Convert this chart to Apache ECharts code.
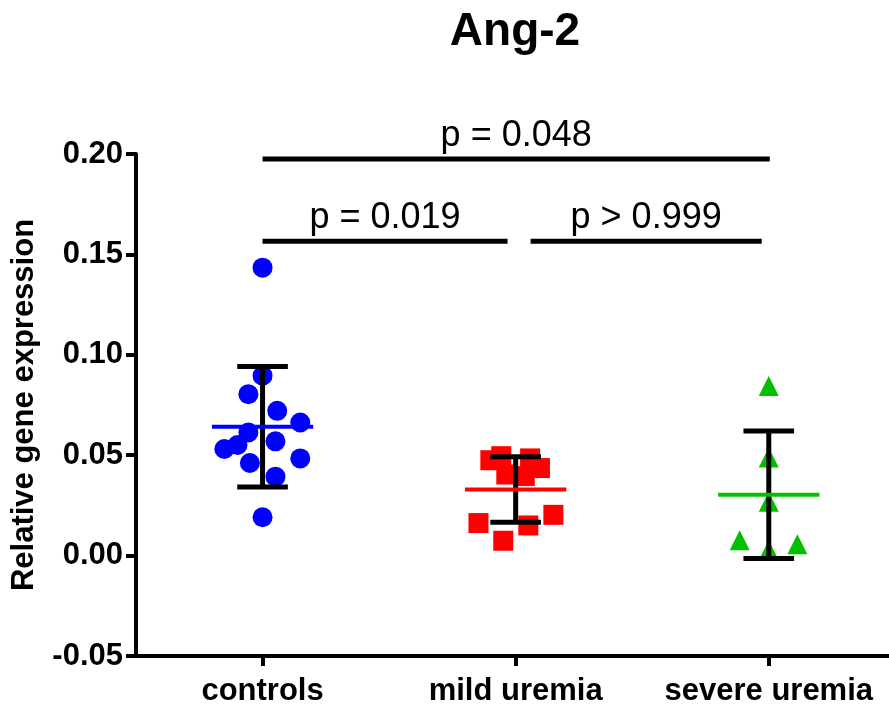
<!DOCTYPE html>
<html>
<head>
<meta charset="utf-8">
<script src="https://cdn.jsdelivr.net/npm/echarts@6/dist/echarts.min.js"></script>
<style>
  html, body { margin: 0; padding: 0; background: #ffffff; }
  #chart { width: 889px; height: 709px; }
</style>
</head>
<body>
<div id="chart"></div>
<script>
// Groups on the x axis
const categories = ['controls', 'mild uremia', 'severe uremia'];

// Individual samples (relative gene expression) with their horizontal spread
const controlsValues = [0.1434, 0.0896, 0.0804, 0.0721, 0.0663, 0.0613, 0.0551, 0.0531, 0.0569, 0.0461, 0.0484, 0.0393, 0.0191];
const controlsSpread = [0, 0, -0.056, 0.058, 0.149, -0.056, -0.099, -0.151, 0.051, -0.050, 0.149, 0.051, 0];

const mildValues = [0.0475, 0.0495, 0.0404, 0.0484, 0.0436, 0.0396, 0.0162, 0.0074, 0.0150, 0.0203];
const mildSpread = [-0.100, -0.057, -0.037, 0.057, 0.096, 0.036, -0.147, -0.049, 0.050, 0.149];

const severeValues = [0.0844, 0.0489, 0.0268, 0.0077, 0.0057, 0.0027];
const severeSpread = [0, 0, 0, -0.115, 0.113, 0];

// Mean and standard deviation per group
const groupMeans = [0.0642, 0.0329, 0.0303];
const groupSD = [0.0300, 0.0163, 0.0318];

// Pairwise comparisons
const bracketFrom = [1.0, 1.0, 2.059];
const bracketTo = [3.004, 1.968, 2.972];
const bracketLevel = [0.1975, 0.1565, 0.1565];
const bracketText = ['p = 0.048', 'p = 0.019', 'p > 0.999'];

// Y axis ticks
const yMin = -0.05, yMax = 0.20, yStep = 0.05;

const groupColors = ['#0000ff', '#ff0000', '#00c000'];
const groupSymbols = ['circle', 'rect', 'triangle'];
const groupValues = [controlsValues, mildValues, severeValues];
const groupSpread = [controlsSpread, mildSpread, severeSpread];

const chart = echarts.init(document.getElementById('chart'));

const scatterSeries = groupValues.map((vals, g) => ({
  type: 'scatter',
  name: categories[g],
  symbol: groupSymbols[g],
  symbolSize: 20,
  itemStyle: { color: groupColors[g], opacity: 1 },
  z: 2,
  silent: true,
  data: vals.map((v, i) => [g + 1 + groupSpread[g][i], v])
}));

// Error bars (mean ± SD) with the group mean drawn on top
const summarySeries = {
  type: 'custom',
  z: 3,
  silent: true,
  encode: { x: 0, y: 1 },
  data: groupMeans.map((m, g) => [g + 1, m, groupSD[g]]),
  renderItem: function (params, api) {
    const x = api.value(0), m = api.value(1), s = api.value(2);
    const top = api.coord([x, m + s]);
    const bot = api.coord([x, m - s]);
    const capL = api.coord([x - 0.1, m])[0];
    const capR = api.coord([x + 0.1, m])[0];
    const meanL = api.coord([x - 0.2, m]);
    const meanR = api.coord([x + 0.2, m]);
    const black = { stroke: '#000', lineWidth: 5, lineCap: 'butt' };
    return {
      type: 'group',
      children: [
        { type: 'line', shape: { x1: top[0], y1: top[1], x2: bot[0], y2: bot[1] }, style: black },
        { type: 'line', shape: { x1: capL, y1: top[1], x2: capR, y2: top[1] }, style: black },
        { type: 'line', shape: { x1: capL, y1: bot[1], x2: capR, y2: bot[1] }, style: black },
        { type: 'line', shape: { x1: meanL[0], y1: meanL[1], x2: meanR[0], y2: meanR[1] },
          style: { stroke: groupColors[params.dataIndex], lineWidth: 4, lineCap: 'butt' } }
      ]
    };
  }
};

// Significance lines with their p-values
const bracketSeries = {
  type: 'custom',
  z: 4,
  silent: true,
  encode: { x: 0, y: 1 },
  data: bracketFrom.map((f, i) => [f, bracketLevel[i], bracketTo[i]]),
  renderItem: function (params, api) {
    const a = api.coord([api.value(0), api.value(1)]);
    const b = api.coord([api.value(2), api.value(1)]);
    return {
      type: 'group',
      children: [
        { type: 'line', shape: { x1: a[0], y1: a[1], x2: b[0], y2: b[1] },
          style: { stroke: '#000', lineWidth: 5, lineCap: 'butt' } },
        { type: 'text',
          style: {
            x: (a[0] + b[0]) / 2, y: a[1] - 5,
            text: bracketText[params.dataIndex],
            fill: '#000', align: 'center', verticalAlign: 'bottom',
            font: '36px "Liberation Sans", Arial, sans-serif'
          } }
      ]
    };
  }
};

chart.setOption({
  backgroundColor: '#ffffff',
  animation: false,
  title: {
    text: 'Ang-2',
    left: 515,
    top: 9,
    padding: 0,
    textAlign: 'center',
    textStyle: { fontFamily: '"Liberation Sans", Arial, sans-serif', fontWeight: 'bold', fontSize: 46, color: '#000' }
  },
  grid: { left: 136, right: 0, top: 154, bottom: 53, containLabel: false },
  xAxis: {
    type: 'value',
    min: 0.5,
    max: 3.475,
    splitLine: { show: false },
    axisLine: { show: true, onZero: false, lineStyle: { color: '#000', width: 4 } },
    axisTick: { show: true, customValues: [1, 2, 3], length: 10, lineStyle: { color: '#000', width: 4 } },
    axisLabel: {
      customValues: [1, 2, 3],
      margin: 20,
      formatter: v => categories[Math.round(v) - 1] || '',
      fontFamily: '"Liberation Sans", Arial, sans-serif',
      fontWeight: 'bold', fontSize: 31, color: '#000'
    }
  },
  yAxis: {
    type: 'value',
    min: yMin,
    max: yMax,
    interval: yStep,
    name: 'Relative gene expression',
    nameLocation: 'middle',
    nameGap: 96,
    nameTextStyle: { fontFamily: '"Liberation Sans", Arial, sans-serif', fontWeight: 'bold', fontSize: 31, color: '#000' },
    splitLine: { show: false },
    axisLine: { show: true, lineStyle: { color: '#000', width: 4 } },
    axisTick: { show: true, length: 10, lineStyle: { color: '#000', width: 4 } },
    axisLabel: {
      margin: 13,
      formatter: v => v.toFixed(2),
      fontFamily: '"Liberation Sans", Arial, sans-serif',
      fontWeight: 'bold', fontSize: 31, color: '#000'
    }
  },
  series: [...scatterSeries, summarySeries, bracketSeries]
});
</script>
</body>
</html>
